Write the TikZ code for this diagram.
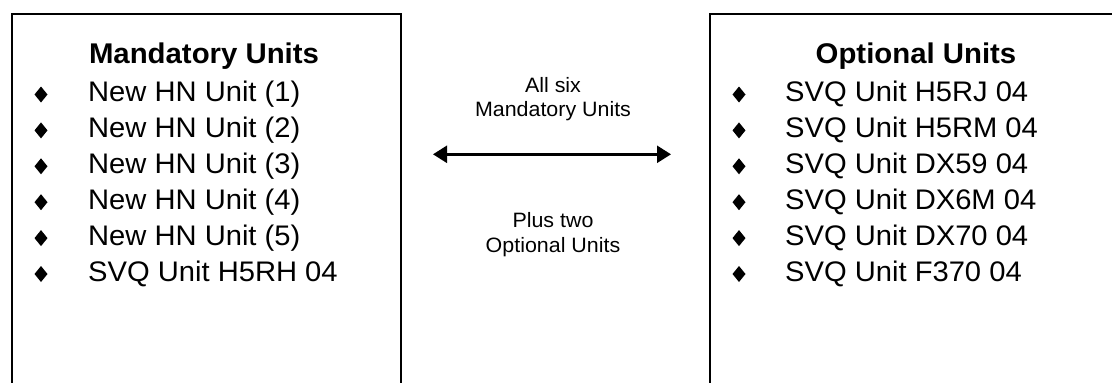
\documentclass[tikz,border=0pt]{standalone}
\usepackage{fontspec}
\setmainfont{Liberation Sans}[FakeStretch=1.03]
\usetikzlibrary{arrows.meta}
\begin{document}
\begin{tikzpicture}[x=1pt,y=-1pt,
  unitbox/.style={draw=black,line width=2pt,rectangle,anchor=north west,inner sep=0pt},
  header/.style={anchor=base,inner sep=0pt,font=\fontsize{28.5}{33}\selectfont\bfseries},
  item/.style={anchor=base west,inner sep=0pt,font=\fontsize{28.3}{32}\selectfont},
  midtext/.style={anchor=base,inner sep=0pt,align=center,font=\fontsize{20.8}{24}\selectfont},
  dblarrow/.style={line width=2.4pt,{Triangle[length=14pt,width=17pt]}-{Triangle[length=14pt,width=17pt]}}]
\useasboundingbox (0,0) rectangle (1112,383);
\clip (0,0) rectangle (1112,383);
% boxes
\node[unitbox,minimum width=389pt,minimum height=420pt] (L) at (10.5,12.5) {};
\node[unitbox,minimum width=420pt,minimum height=420pt] (R) at (708.5,12.5) {};
% headers
\node[header] (Lh) at (204,63) {Mandatory Units};
\node[header] (Rh) at (916,63) {Optional Units};
% left items
\foreach \t [count=\i] in {New HN Unit (1),New HN Unit (2),New HN Unit (3),New HN Unit (4),New HN Unit (5),SVQ Unit H5RH 04}{
  \pgfmathsetmacro\yy{101.5+35.9*(\i-1)}
  \fill (41,\yy-7) ++(-6.5,0) -- ++(6.5,-8) -- ++(6.5,8) -- ++(-6.5,8) -- cycle;
  \node[item] (Lt\i) at (88,\yy) {\t};
}
% right items
\foreach \t [count=\i] in {SVQ Unit H5RJ 04,SVQ Unit H5RM 04,SVQ Unit DX59 04,SVQ Unit DX6M 04,SVQ Unit DX70 04,SVQ Unit F370 04}{
  \pgfmathsetmacro\yy{101.5+35.9*(\i-1)}
  \fill (739,\yy-7) ++(-6.5,0) -- ++(6.5,-8) -- ++(6.5,8) -- ++(-6.5,8) -- cycle;
  \node[item] (Rt\i) at (785,\yy) {\t};
}
% middle texts
\node[midtext] (m1) at (553,92) {All six};
\node[midtext] (m2) at (553,116) {Mandatory Units};
\node[midtext] (m3) at (553,227) {Plus two};
\node[midtext] (m4) at (553,252) {Optional Units};
% arrow
\coordinate (aL) at (433,154.3);
\coordinate (aR) at (671,154.3);
\draw[dblarrow] (aL) -- (aR);
\end{tikzpicture}
\end{document}
